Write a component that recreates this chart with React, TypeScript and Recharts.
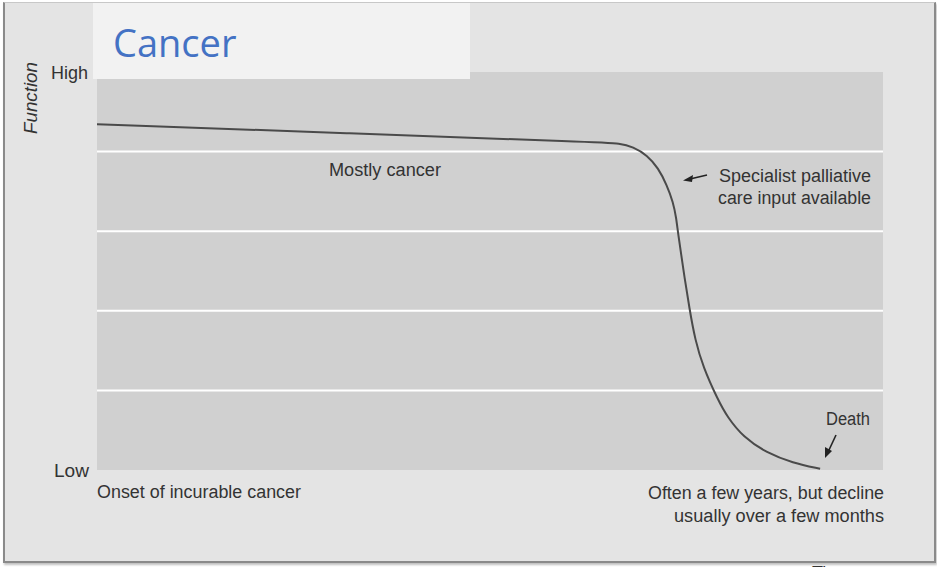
import React from 'react';
import { LineChart, Line, XAxis, YAxis, CartesianGrid, ReferenceLine } from 'recharts';

// time axis 0-100 (onset -> death), function 0 (Low) - 100 (High)
const timeValues = [0, 32.2, 64.0, 66.5, 68.2, 70.0, 71.4, 72.5, 73.3, 73.7, 73.9, 74.6, 75.4, 76.1, 77.1, 79.0, 80.2, 82.2, 85.2, 88.5, 92.0];
const functionValues = [86.9, 84.6, 82.3, 82.1, 81.2, 79.1, 75.9, 71.6, 67.3, 63.3, 59.8, 50.3, 40.2, 32.7, 25.9, 17.6, 13.3, 8.3, 4.3, 1.8, 0.3];
const gridValues = [20, 40, 60, 80];

const data = timeValues.map((t, i) => ({ time: t, fn: functionValues[i] }));

const font = "'Liberation Sans', Arial, sans-serif";
const textColor = '#333333';

// condensed label: squeeze to the width it has in the reference
const Label = ({ x, y, w, anchor = 'start', children, ...rest }: any) => (
  <text
    x={x}
    y={y}
    textAnchor={anchor}
    textLength={w}
    lengthAdjust="spacingAndGlyphs"
    fontFamily={font}
    fontSize={18}
    fill={textColor}
    {...rest}
  >
    {children}
  </text>
);

const App: React.FC = () => {
  return (
    <div style={{ position: 'absolute', left: 0, top: 0, width: 937, height: 567, background: '#ffffff', overflow: 'hidden' }}>
      <div
        style={{
          position: 'absolute',
          left: 3,
          top: 2,
          width: 929,
          height: 558,
          background: '#e4e4e4',
          borderLeft: '2px solid #8a8a8a',
          borderRight: '2px solid #8a8a8a',
          borderTop: '1px solid #c8c8c8',
          borderBottom: '2px solid #8a8a8a',
          boxShadow: '1px 2px 2px rgba(0,0,0,0.25)',
        }}
      />
      <div style={{ position: 'absolute', left: 0, top: 0 }}>
        <LineChart width={937} height={567} data={data} margin={{ top: 72, right: 54, bottom: 97, left: 97 }}>
          <CartesianGrid fill="#d0d0d0" stroke="none" horizontal={false} vertical={false} />
          <XAxis dataKey="time" type="number" domain={[0, 100]} hide />
          <YAxis type="number" domain={[0, 100]} hide width={0} />
          {gridValues.map(v => (
            <ReferenceLine key={v} y={v} stroke="#ffffff" strokeWidth={2} />
          ))}
          <Line
            type="basis"
            dataKey="fn"
            stroke="#4a4a4a"
            strokeWidth={2}
            dot={false}
            isAnimationActive={false}
          />
        </LineChart>
      </div>
      <svg width={937} height={567} style={{ position: 'absolute', left: 0, top: 0 }}>
        <rect x={93} y={3} width={377} height={76} fill="#f2f2f2" />
        <text x={113} y={57} fontFamily="'Open Sans', 'Noto Sans', sans-serif" fontSize={38} fill="#4472c4">Cancer</text>

        <g transform="rotate(-90 37 98)">
          <Label x={37} y={98} w={72} anchor="middle" fontStyle="italic">Function</Label>
        </g>
        <Label x={88} y={79} w={37} anchor="end">High</Label>
        <Label x={89} y={477} w={35} anchor="end">Low</Label>

        <Label x={97} y={498} w={204}>Onset of incurable cancer</Label>
        <Label x={884} y={499} w={236} anchor="end">Often a few years, but decline</Label>
        <Label x={884} y={522} w={210} anchor="end">usually over a few months</Label>

        <Label x={385} y={176} w={112} anchor="middle">Mostly cancer</Label>

        <Label x={871} y={182} w={152} anchor="end">Specialist palliative</Label>
        <Label x={871} y={204} w={153} anchor="end">care input available</Label>
        <line x1={707} y1={175} x2={690} y2={179} stroke="#222" strokeWidth={1.6} />
        <polygon points="683,180.5 693,175 692,182" fill="#222" />

        <Label x={870} y={425} w={44} anchor="end">Death</Label>
        <line x1={836} y1={435} x2={829} y2={450} stroke="#222" strokeWidth={1.6} />
        <polygon points="825,458 825,447 832,451" fill="#222" />

        <text x={812} y={579} fontFamily={font} fontSize={18} fill={textColor}>Time</text>
      </svg>
    </div>
  );
};

export default App;
